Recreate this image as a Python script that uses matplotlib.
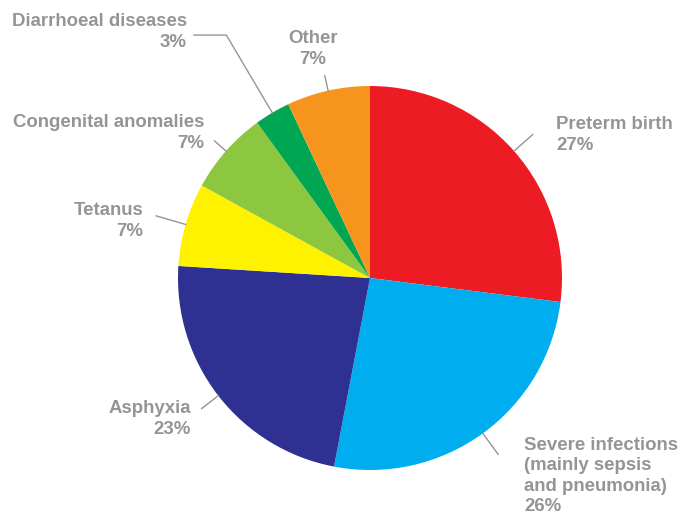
import matplotlib
matplotlib.use("Agg")
import matplotlib.pyplot as plt
import numpy as np

# Data
categories = ["Preterm birth", "Severe infections\n(mainly sepsis\nand pneumonia)", "Asphyxia",
              "Tetanus", "Congenital anomalies", "Diarrhoeal diseases", "Other"]
values = [27, 26, 23, 7, 7, 3, 7]
colors = ["#ED1C24", "#00AEEF", "#2E3192", "#FFF200", "#8DC63F", "#00A651", "#F7941D"]

W, H = 678, 516
fig = plt.figure(figsize=(W / 100, H / 100), dpi=100)
ax = fig.add_axes([0, 0, 1, 1])

cx, cy, R = 370, H - 278, 192
wedges, _ = ax.pie(values, colors=colors, startangle=90, counterclock=False,
                   center=(cx, cy), radius=R, frame=True,
                   wedgeprops=dict(linewidth=0))
ax.set_xlim(0, W)
ax.set_ylim(0, H)
ax.set_aspect("auto")
ax.axis("off")

gray = "#939598"
# label layout: (x, y in pixels from top, ha, leader outer radius factor)
layout = [
    (556, 135, "left", 1.13),
    (524, 476, "left", 1.135),
    (191, 419, "right", 1.11),
    (143, 221, "right", 1.16),
    (204, 133, "right", 1.08),
    (187, 32, "right", None),
    (313, 49, "center", 1.08),
]

for w, cat, val, (tx, ty, ha, rf) in zip(wedges, categories, values, layout):
    ang = np.deg2rad((w.theta1 + w.theta2) / 2)
    ax.text(tx, H - ty, f"{cat}\n{val}%", ha=ha, va="center", color=gray,
            fontsize=13.4, fontweight="bold", family="Liberation Sans", linespacing=1.25)
    x0, y0 = cx + R * np.cos(ang), cy + R * np.sin(ang)
    if rf is not None:
        x1, y1 = cx + R * rf * np.cos(ang), cy + R * rf * np.sin(ang)
        ax.plot([x0, x1], [y0, y1], color=gray, lw=1)
    else:
        # elbow leader for small wedge
        rf2 = 1.47
        x1, y1 = cx + R * rf2 * np.cos(ang), cy + R * rf2 * np.sin(ang)
        ax.plot([x0, x1, tx + 7], [y0, y1, y1], color=gray, lw=1)

fig.savefig("out.png", dpi=100)
